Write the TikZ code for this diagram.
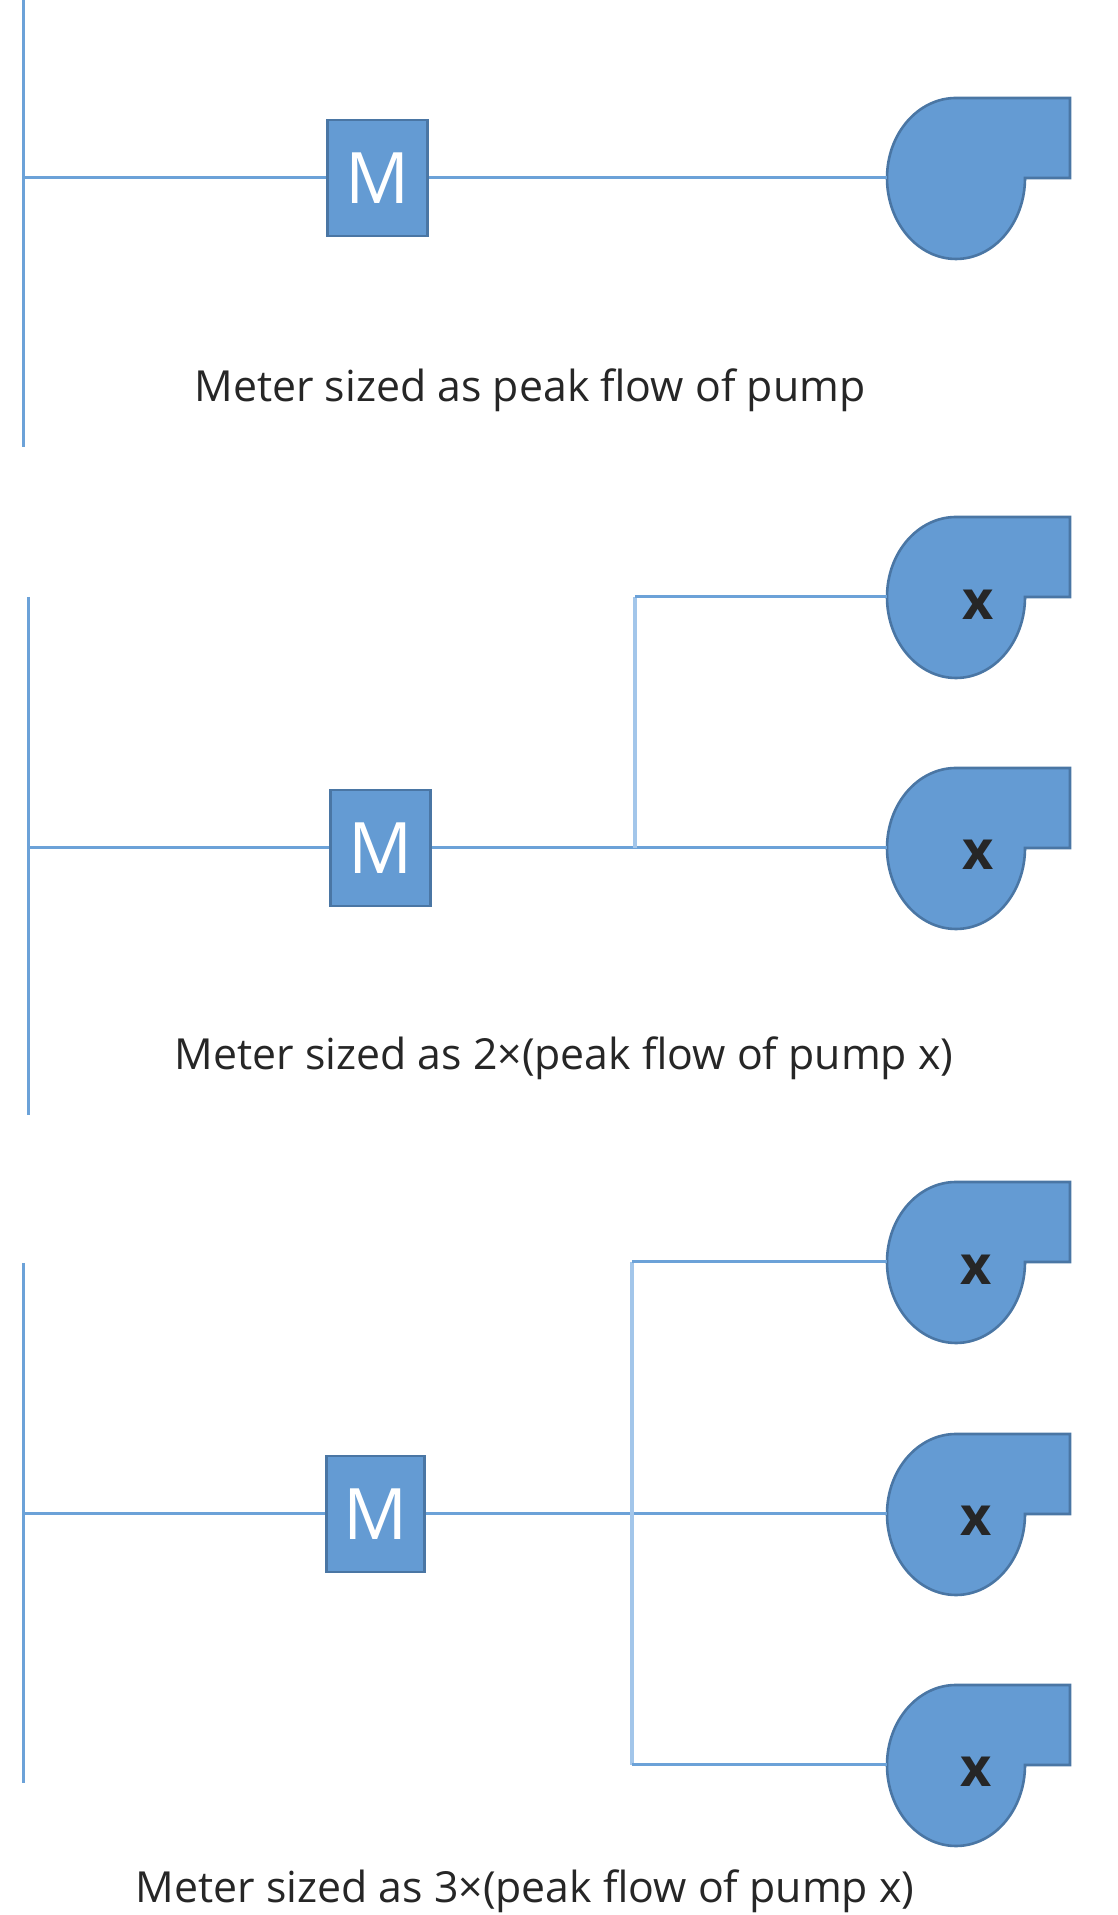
\documentclass[tikz,border=0pt]{standalone}
\usepackage{fontspec}
\setmainfont{Open Sans}
\usetikzlibrary{calc}
\definecolor{pumpfill}{HTML}{649BD3}
\definecolor{pumpedge}{HTML}{4A76A4}
\definecolor{pipeblue}{HTML}{6CA2D8}
\definecolor{branchblue}{HTML}{A3C6EA}
\definecolor{capgray}{HTML}{262626}
\tikzset{
    pipe/.style = {
        draw=pipeblue,
        line width=3pt,
        },
    branch/.style = {
        draw=branchblue,
        line width=4pt,
        },
    meter/.style = {
        draw=pumpedge,
        line width=2.6pt,
        fill=pumpfill,
        text=white,
        inner sep=0pt,
        font=\fontsize{71}{71}\selectfont,
        },
    caption/.style = {
        text=capgray,
        inner sep=0pt,
        font=\fontsize{42.8}{43}\selectfont,
        },
    pump tag/.style = {
        text=capgray,
        inner sep=0pt,
        font=\fontsize{54}{54}\selectfont\bfseries,
        },
    pump/.pic = {
        \coordinate (-in) at (0,0);
        \draw[draw=pumpedge, line width=2.6pt, fill=pumpfill]
            (0,0) arc[start angle=180, end angle=90, x radius=69, y radius=80]
            -- (183,80) -- (183,0) -- (138,0)
            arc[start angle=0, end angle=-180, x radius=69, y radius=81] -- cycle;
    },
}
\begin{document}
\begin{tikzpicture}[x=1pt,y=1pt]
    \useasboundingbox (0,0) rectangle (1117,1915);

    % one pump
    \coordinate (T1a) at (23,1915);
    \coordinate (T1b) at (23,1468);
    \coordinate (J1) at (23,1737);
    \node[meter, minimum width=100pt, minimum height=116pt] (M1) at (377.5,1737) {M};
    \pic (P1) at (887,1737) {pump};
    \draw[pipe] (T1a) -- (T1b);
    \draw[pipe] (J1) -- (M1);
    \draw[pipe] (M1) -- (P1-in);
    \node[caption] (C1) at (530,1525) {Meter sized as peak flow of pump};

    % two pumps
    \coordinate (T2a) at (28,1318);
    \coordinate (T2b) at (28,800);
    \coordinate (J2) at (28,1067);
    \node[meter, minimum width=100pt, minimum height=116pt] (M2) at (380.5,1067) {M};
    \coordinate (B2) at (635,1067);
    \coordinate (B2t) at (635,1318);
    \pic (P2a) at (887,1318) {pump};
    \pic (P2b) at (887,1067) {pump};
    \node[pump tag] (X2a) at (978.5,1310) {x};
    \node[pump tag] (X2b) at (978.5,1060) {x};
    \draw[pipe] (T2a) -- (T2b);
    \draw[pipe] (J2) -- (M2);
    \draw[pipe] (M2) -- (P2b-in);
    \draw[branch] (B2) -- (B2t);
    \draw[pipe] (B2t) -- (P2a-in);
    \node[caption] (C2) at (564,857) {Meter sized as 2×(peak flow of pump x)};

    % three pumps
    \coordinate (T3a) at (23,652);
    \coordinate (T3b) at (23,132);
    \coordinate (J3) at (23,401);
    \node[meter, minimum width=98pt, minimum height=116pt] (M3) at (375.5,401) {M};
    \coordinate (B3t) at (632,653);
    \coordinate (B3b) at (632,150);
    \pic (P3a) at (887,653) {pump};
    \pic (P3b) at (887,401) {pump};
    \pic (P3c) at (887,150) {pump};
    \node[pump tag] (X3a) at (976.5,645) {x};
    \node[pump tag] (X3b) at (976.5,394) {x};
    \node[pump tag] (X3c) at (976.5,143) {x};
    \draw[pipe] (T3a) -- (T3b);
    \draw[pipe] (J3) -- (M3);
    \draw[pipe] (M3) -- (P3b-in);
    \draw[branch] (B3t) -- (B3b);
    \draw[pipe] (B3t) -- (P3a-in);
    \draw[pipe] (B3b) -- (P3c-in);
    \node[caption] (C3) at (525,24) {Meter sized as 3×(peak flow of pump x)};
\end{tikzpicture}
\end{document}
